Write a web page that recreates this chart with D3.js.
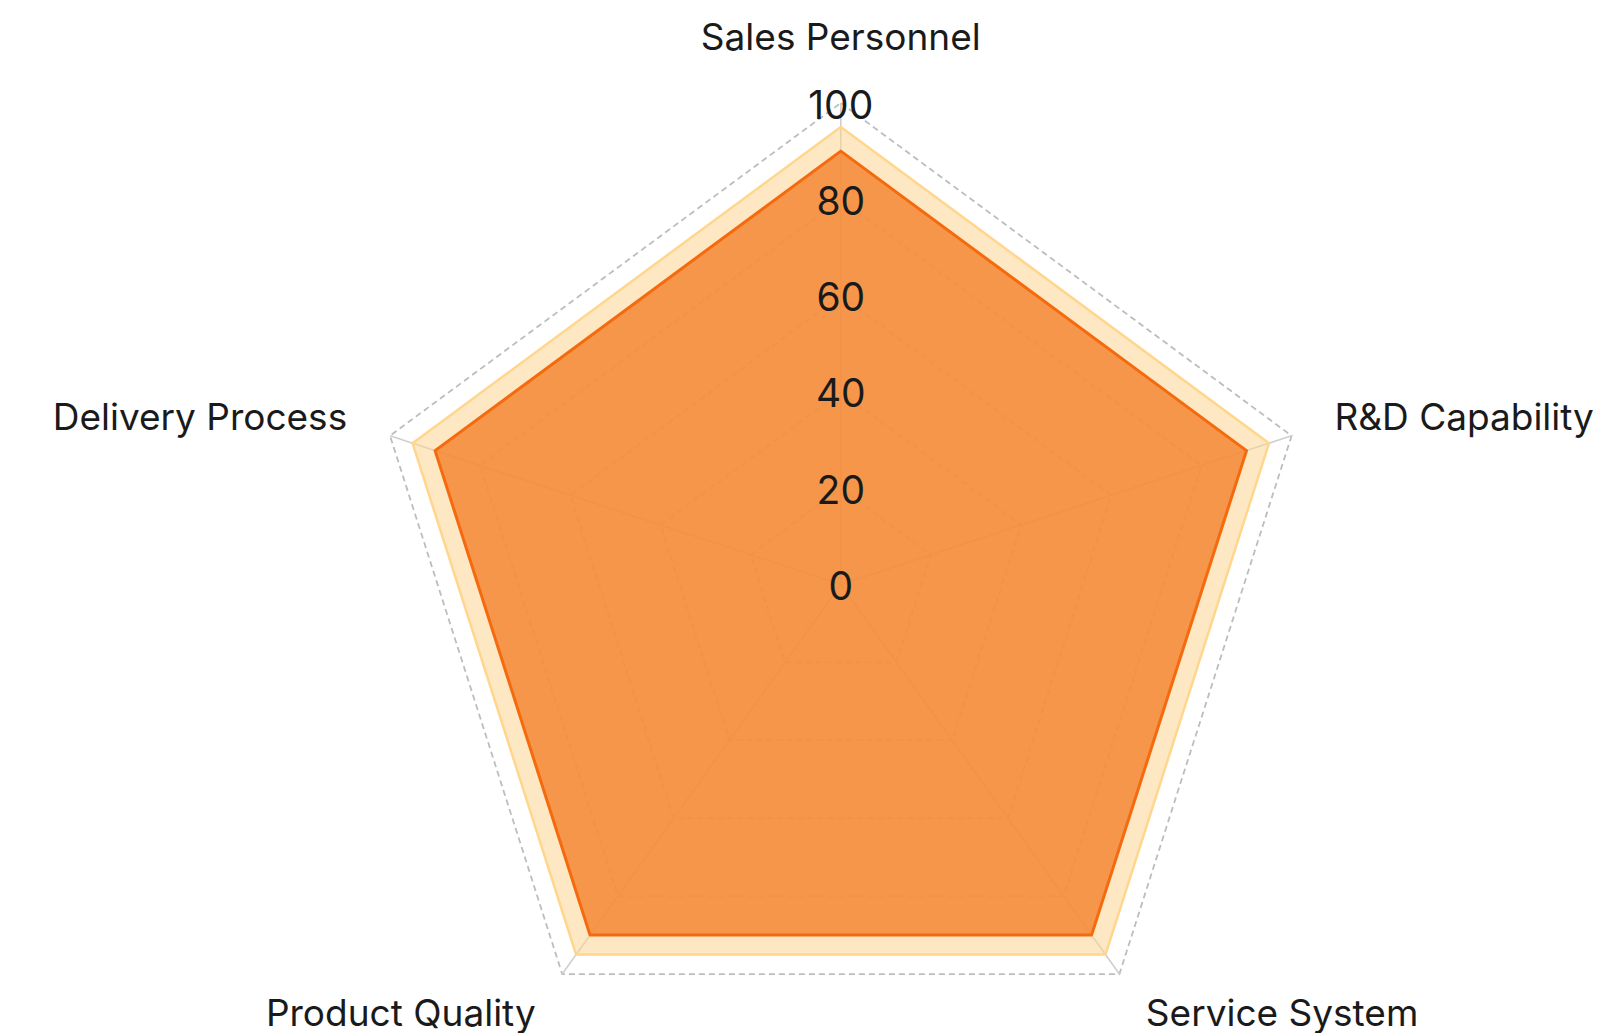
<!DOCTYPE html>
<html>
<head>
<meta charset="utf-8">
<script src="https://cdn.jsdelivr.net/npm/d3@7"></script>
<style>
html,body{margin:0;padding:0;background:#fff;}
svg{display:block;}
text{font-family:Inter,"Noto Sans",sans-serif;fill:#1a1a1a;}
</style>
</head>
<body>
<svg id="chart" width="1624" height="1033"></svg>
<script>
const categories = ["Sales Personnel", "R&D Capability", "Service System", "Product Quality", "Delivery Process"];
const seriesOuter = [95, 95, 95, 95, 95];
const seriesInner = [90, 90, 90, 90, 90];
const tickValues = [0, 20, 40, 60, 80, 100];

const W = 1624, H = 1033;
const cx = 840.8, cy = 584.5;
const rX = d3.scaleLinear().domain([0, 100]).range([0, 474]);
const rY = d3.scaleLinear().domain([0, 100]).range([0, 481.5]);
const angle = d3.scalePoint().domain(categories.concat(["_end"])).range([0, 2 * Math.PI]);

const svg = d3.select("#chart");

function pt(cat, v) {
  const a = angle(cat);
  return [cx + rX(v) * Math.sin(a), cy - rY(v) * Math.cos(a)];
}
const line = d3.line().curve(d3.curveLinearClosed);

// grid rings
const gGrid = svg.append("g");
tickValues.filter(t => t > 0).forEach(t => {
  gGrid.append("path")
    .attr("d", line(categories.map(c => pt(c, t))))
    .attr("fill", "none")
    .attr("stroke", t === 100 ? "#bdbdbd" : "#c2c2c2")
    .attr("stroke-width", 1.8)
    .attr("stroke-dasharray", "6,4");
});
// radial axis lines
categories.forEach(c => {
  const [x, y] = pt(c, 100);
  gGrid.append("line")
    .attr("x1", cx).attr("y1", cy).attr("x2", x).attr("y2", y)
    .attr("stroke", "#cfcfcf").attr("stroke-width", 1.6);
});

// series
svg.append("path")
  .attr("d", line(categories.map((c, i) => pt(c, seriesOuter[i]))))
  .attr("fill", "rgb(253,214,145)").attr("fill-opacity", 0.55)
  .attr("stroke", "#ffd68c").attr("stroke-width", 2.5)
  .attr("stroke-linejoin", "round");

svg.append("path")
  .attr("d", line(categories.map((c, i) => pt(c, seriesInner[i]))))
  .attr("fill", "rgb(243,135,54)").attr("fill-opacity", 0.85)
  .attr("stroke", "#f56a0d").attr("stroke-width", 3)
  .attr("stroke-linejoin", "round");

// tick labels along first axis
const gTicks = svg.append("g");
tickValues.forEach(t => {
  const [x, y] = pt(categories[0], t);
  gTicks.append("text")
    .attr("x", x).attr("y", y + 1)
    .attr("text-anchor", "middle")
    .attr("dominant-baseline", "central")
    .attr("font-size", 39)
    .text(t);
});

// category labels
const gapX = 45, gapY = 51;
categories.forEach(c => {
  const a = angle(c);
  const s = Math.sin(a), co = Math.cos(a);
  const [vx, vy] = pt(c, 100);
  const x = vx + gapX * s;
  const y = vy - gapY * co;
  const anchor = Math.abs(s) < 0.01 ? "middle" : (s > 0 ? "start" : "end");
  const t = svg.append("text")
    .attr("x", x)
    .attr("text-anchor", anchor)
    .attr("font-size", 37)
    .text(c);
  if (Math.abs(s) < 0.01) {
    t.attr("y", y - 2).attr("dominant-baseline", "auto");
  } else {
    t.attr("y", y - 3).attr("dominant-baseline", "central");
  }
});
</script>
</body>
</html>
